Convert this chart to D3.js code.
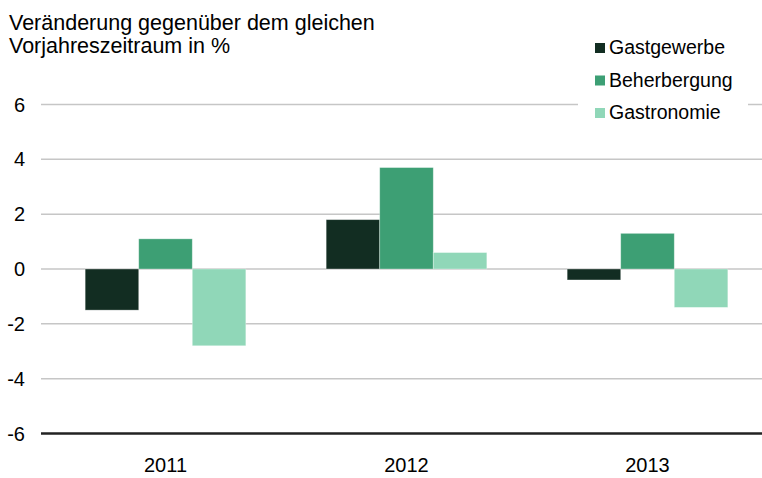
<!DOCTYPE html>
<html>
<head>
<meta charset="utf-8">
<script src="https://cdn.jsdelivr.net/npm/d3@7"></script>
<style>
  body { margin: 0; background: #fff; }
  svg { font-family: "Liberation Sans", Arial, sans-serif; }
</style>
</head>
<body>
<div id="chart"></div>
<script>
// data
var years = ["2011", "2012", "2013"];
var seriesNames = ["Gastgewerbe", "Beherbergung", "Gastronomie"];
var gastgewerbe = [-1.5, 1.8, -0.4];
var beherbergung = [1.1, 3.7, 1.3];
var gastronomie = [-2.8, 0.6, -1.4];
var yTicks = [-6, -4, -2, 0, 2, 4, 6];
var colors = ["#122d22", "#3d9f74", "#90d7b8"];
var titleLines = ["Veränderung gegenüber dem gleichen", "Vorjahreszeitraum in %"];

var seriesValues = [gastgewerbe, beherbergung, gastronomie];
var rows = [];
years.forEach(function (yr, i) {
  seriesNames.forEach(function (s, j) {
    rows.push({year: yr, series: s, value: seriesValues[j][i]});
  });
});

var width = 762, height = 478;

var svg = d3.select("#chart").append("svg")
  .attr("width", width)
  .attr("height", height);

var y = d3.scaleLinear()
  .domain([-6, 6])
  .range([433.5, 104.5]);

var x0 = d3.scaleBand()
  .domain(years)
  .range([45, 768])
  .paddingInner(1 / 3)
  .paddingOuter(1 / 6);

var x1 = d3.scaleBand()
  .domain(seriesNames)
  .range([0, x0.bandwidth()]);

var color = d3.scaleOrdinal().domain(seriesNames).range(colors);

// gridlines
svg.append("g")
  .selectAll("line")
  .data(yTicks.filter(d => d > -6))
  .enter().append("line")
    .attr("x1", 41)
    .attr("x2", width)
    .attr("y1", d => y(d))
    .attr("y2", d => y(d))
    .style("stroke", "#c6c6c6")
    .style("stroke-width", 1.5);

// y tick labels
svg.append("g")
  .selectAll("text")
  .data(yTicks)
  .enter().append("text")
    .attr("x", 25)
    .attr("y", d => y(d))
    .attr("dy", "0.35em")
    .style("text-anchor", "end")
    .style("font-size", "20px")
    .style("fill", "#000")
    .text(d => d);

// bars
svg.append("g")
  .selectAll("rect")
  .data(rows)
  .enter().append("rect")
    .attr("x", d => x0(d.year) + x1(d.series))
    .attr("y", d => y(Math.max(0, d.value)))
    .attr("width", x1.bandwidth())
    .attr("height", d => Math.abs(y(d.value) - y(0)))
    .style("fill", d => color(d.series))
    .style("stroke", "#fff")
    .style("stroke-opacity", 0.4)
    .style("stroke-width", 0.8);

// bottom axis line
svg.append("line")
  .attr("x1", 41)
  .attr("x2", width)
  .attr("y1", y(-6))
  .attr("y2", y(-6))
  .style("stroke", "#222")
  .style("stroke-width", 2.5);

// x labels
var xAxis = d3.axisBottom(x0).tickSize(0).tickPadding(0);
svg.append("g")
  .attr("transform", "translate(0,458)")
  .call(xAxis)
  .call(g => g.select(".domain").remove())
  .selectAll("text")
    .attr("dy", "0.71em")
    .style("font-size", "20px")
    .style("font-family", "Liberation Sans, Arial, sans-serif")
    .style("fill", "#000");

// title
svg.append("g")
  .selectAll("text")
  .data(titleLines)
  .enter().append("text")
    .attr("x", 9)
    .attr("y", (d, i) => 30 + i * 23)
    .style("font-size", "21.5px")
    .style("fill", "#000")
    .text(d => d);

// legend
svg.append("rect")
  .attr("x", 578)
  .attr("y", 32)
  .attr("width", 170)
  .attr("height", 95)
  .style("fill", "#fff");

var legend = svg.selectAll(".legend")
    .data(seriesNames)
  .enter().append("g")
    .attr("class", "legend")
    .attr("transform", (d, i) => `translate(595,${43 + i * 32.5})`);

legend.append("rect")
  .attr("width", 10)
  .attr("height", 10)
  .style("fill", d => color(d));

legend.append("text")
  .attr("x", 14)
  .attr("y", 11)
  .style("font-size", "19.5px")
  .style("fill", "#000")
  .text(d => d);
</script>
</body>
</html>
